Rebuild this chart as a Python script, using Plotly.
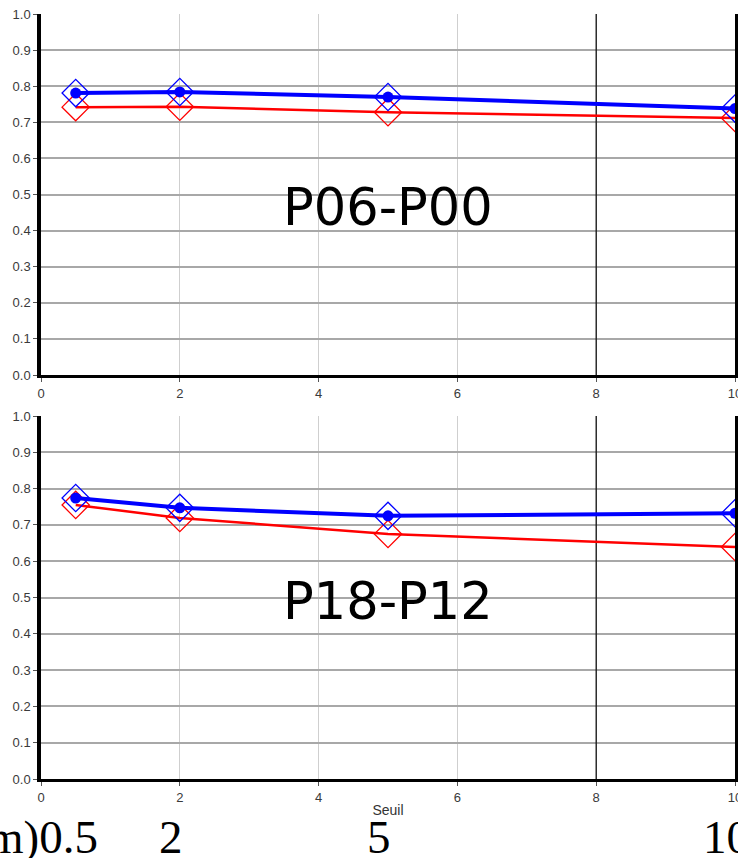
import plotly.graph_objects as go

# Thresholds (x) and scores for each period pair
seuils = [0.5, 2, 5, 10]

p06_blue = [0.781, 0.784, 0.770, 0.738]
p06_red = [0.742, 0.743, 0.728, 0.712]

p18_blue = [0.774, 0.747, 0.725, 0.732]
p18_red = [0.755, 0.719, 0.675, 0.639]

panel_titles = ["P06-P00", "P18-P12"]
title_y = [0.464, 0.49]
x_ticks = [0, 2, 4, 6, 8, 10]
y_ticks = [round(i * 0.1, 1) for i in range(11)]
bottom_labels = ["m)0.5", "2", "5", "10"]

W, H = 738, 858
x_left, x_right = 41, 735
panels_px = [(14, 375), (416, 779)]  # (top, bottom) pixel rows of each panel

BLUE = "#0000ff"
RED = "#ff0000"
TICK_FONT = dict(family="Liberation Sans", size=13, color="#3a3a3a")

fig = go.Figure()


def py(p):
    return 1 - p / H


for i, ((top, bot), title, ty, blue, red) in enumerate(
        zip(panels_px, panel_titles, title_y, [p06_blue, p18_blue], [p06_red, p18_red])):
    n = "" if i == 0 else str(i + 1)
    xa, ya = "x" + n, "y" + n
    # red series: open diamonds
    fig.add_trace(go.Scatter(
        x=seuils, y=red, xaxis=xa, yaxis=ya, mode="lines+markers",
        line=dict(color=RED, width=2.5),
        marker=dict(symbol="diamond-open", size=21, color=RED, line=dict(width=1.3)),
        showlegend=False))
    # blue series: filled circles inside open diamonds
    fig.add_trace(go.Scatter(
        x=seuils, y=blue, xaxis=xa, yaxis=ya, mode="lines+markers",
        line=dict(color=BLUE, width=4),
        marker=dict(symbol="circle", size=11, color=BLUE),
        showlegend=False))
    fig.add_trace(go.Scatter(
        x=seuils, y=blue, xaxis=xa, yaxis=ya, mode="markers",
        marker=dict(symbol="diamond-open", size=21, color=BLUE, line=dict(width=1.3)),
        showlegend=False))

    fig.layout["xaxis" + n] = dict(
        domain=[x_left / W, x_right / W], anchor=ya, range=[0, 10],
        tickvals=x_ticks, ticktext=[str(v) for v in x_ticks],
        showline=True, linecolor="black", linewidth=3, mirror=False,
        ticks="outside", ticklen=4, tickcolor="#555",
        tickfont=TICK_FONT, ticklabeloverflow="allow", automargin=False,
        showgrid=True, gridcolor="#cfcfcf", gridwidth=1, zeroline=False,
        title=dict(text="Seuil" if i == 1 else "",
                   font=dict(family="Liberation Sans", size=14, color="#333"),
                   standoff=2))
    fig.layout["yaxis" + n] = dict(
        domain=[py(bot), py(top)], anchor=xa, range=[0, 1.0],
        tickvals=y_ticks, ticktext=[f"{v:.1f}" for v in y_ticks],
        showline=True, linecolor="black", linewidth=3.5, mirror=True,
        ticks="outside", ticklen=4, tickcolor="#555",
        tickfont=TICK_FONT, ticklabeloverflow="allow", automargin=False,
        showgrid=True, gridcolor="#a8a8a8", gridwidth=1.5, zeroline=False)

    # darker reference line at x = 8
    fig.add_shape(type="line", xref=xa, yref=ya, x0=8, x1=8, y0=0, y1=1,
                  line=dict(color="#111", width=1.3), layer="between")

    fig.add_annotation(
        text=title, xref=xa, yref=ya, x=5, y=ty, showarrow=False,
        font=dict(family="DejaVu Sans", size=51, color="black"))

# threshold values written under the bottom panel
for lbl, xv in zip(bottom_labels, seuils):
    lead = lbl.startswith("m)")
    fig.add_annotation(
        text=lbl, xref="x2", yref="paper", x=xv, y=py(837), yshift=-28,
        xanchor="right" if lead else "center", xshift=24 if lead else -9,
        showarrow=False,
        font=dict(family="Liberation Serif", size=47, color="black"))

fig.update_layout(
    width=W, height=H, margin=dict(l=0, r=0, t=0, b=0, autoexpand=False),
    paper_bgcolor="white", plot_bgcolor="white",
)

fig.write_html("out.html")
